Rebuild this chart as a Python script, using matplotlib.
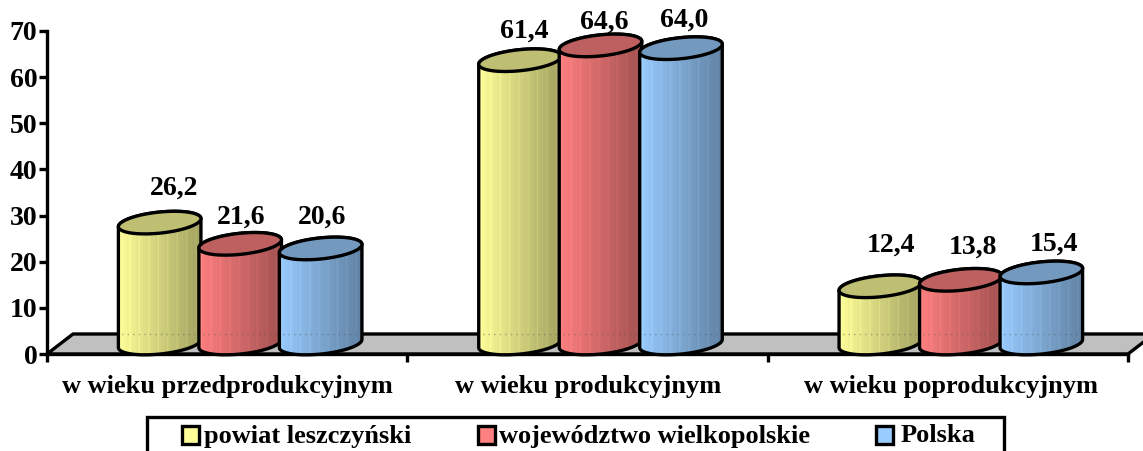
import numpy as np
import matplotlib
matplotlib.use("Agg")
import matplotlib.pyplot as plt
from matplotlib.patches import Polygon, Rectangle

categories = ["w wieku przedprodukcyjnym", "w wieku produkcyjnym", "w wieku poprodukcyjnym"]
series_names = ["powiat leszczyński", "województwo wielkopolskie", "Polska"]
powiat = [26.2, 61.4, 12.4]
wojewodztwo = [21.6, 64.6, 13.8]
polska = [20.6, 64.0, 15.4]
y_ticks = [0, 10, 20, 30, 40, 50, 60, 70]
colors = ["#FFFF99", "#FF8080", "#99CCFF"]

W, H = 1143, 451
L, R, B, T = 47, 1128, 354, 31
plt.rcParams["font.family"] = ["Liberation Serif", "DejaVu Serif"]
fig = plt.figure(figsize=(W / 100, H / 100), dpi=100)
ax = fig.add_axes([L / W, (H - B) / H, (R - L) / W, (B - T) / H])
ax.set_xlim(0, 3)
ax.set_ylim(0, 70)
px_x = 3 / (R - L)
px_y = 70 / (B - T)
LW = 2.4

# floor
depth_x, depth_y = 26, 20
floor = Polygon([(0, 0), (depth_x * px_x, depth_y * px_y),
                 (3 + depth_x * px_x, depth_y * px_y), (3, 0)],
                closed=True, facecolor="#C0C0C0", edgecolor="black", lw=LW,
                clip_on=False, zorder=1)
ax.add_patch(floor)

a, b, theta = 41.5, 10.5, np.radians(6)
shift = 13
spacing = 80.5
lift = 10.5
label_lift = 10


def ell(cx, cy, t):
    px = a * np.cos(t) * np.cos(theta) - b * np.sin(t) * np.sin(theta)
    py = a * np.cos(t) * np.sin(theta) + b * np.sin(t) * np.cos(theta)
    return np.column_stack([cx + px * px_x, cy + py * px_y])


def cylinder(center, value, color, z):
    cx = center
    y_top = value + lift * px_y
    y_bot = lift * px_y
    rgb = np.array(matplotlib.colors.to_rgb(color))
    up = np.linspace(0, np.pi, 60)
    lo = np.linspace(np.pi, 2 * np.pi, 60)
    outline = np.vstack([ell(cx, y_top, up), ell(cx, y_bot, lo)])
    body = Polygon(outline, closed=True, facecolor="none", edgecolor="black",
                   lw=LW, clip_on=False, zorder=z + 0.2, joinstyle="round")
    mask = Polygon(outline, closed=True, transform=ax.transData, facecolor="none", edgecolor="none")
    ax.add_patch(mask)
    n = 84
    shade = np.linspace(1.0, 0.62, n)
    shade = shade + np.where(np.arange(n) % 9 == 4, 0.06, 0.0) + np.where(np.arange(n) % 3 == 0, 0.012, 0.0)
    img = np.clip(shade[None, :, None] * rgb[None, None, :], 0, 1)
    half = (a + 2) * px_x
    im = ax.imshow(img, extent=[cx - half, cx + half, y_bot - 20 * px_y, y_top + 20 * px_y],
                   aspect="auto", interpolation="bilinear", zorder=z, clip_on=True)
    im.set_clip_path(mask)
    ghost, = ax.plot([cx - half, cx + half], [depth_y * px_y] * 2, color="#555555", lw=1.0,
                     ls=(0, (1, 3)), alpha=0.45, zorder=z + 0.1)
    ghost.set_clip_path(mask)
    ax.add_patch(body)
    ax.add_patch(Polygon(ell(cx, y_top, np.linspace(0, 2 * np.pi, 120)), closed=True,
                         facecolor=rgb * 0.75, edgecolor="black", lw=LW,
                         clip_on=False, zorder=z + 0.3))


all_series = [powiat, wojewodztwo, polska]
# per-label pixel nudges (dx, height above ellipse centre)
label_dx = [[14, 1, 1], [4, 4, 3], [11, 12, 13]]
label_up = [[35, 27, 32], [30, 24, 29], [42, 33, 29]]
for g in range(3):
    centre = g + 0.5 + shift * px_x
    for s, series in enumerate(all_series):
        cx = centre + (s - 1) * spacing * px_x
        cylinder(cx, series[g], colors[s], 3 + s)
        ytext = series[g] + (label_up[g][s] + label_lift) * px_y
        ax.text(cx + label_dx[g][s] * px_x, ytext,
                f"{series[g]:.1f}".replace(".", ","), ha="center", va="center",
                fontsize=20, fontweight="bold", zorder=10, clip_on=False)

ax.set_xlim(0, 3)
ax.set_ylim(0, 70)
for side in ["top", "right"]:
    ax.spines[side].set_visible(False)
for side in ["left", "bottom"]:
    ax.spines[side].set_linewidth(LW)
    ax.spines[side].set_zorder(2)
ax.set_yticks(y_ticks)
ax.set_yticklabels([str(v) for v in y_ticks], fontsize=20, fontweight="bold")
ax.set_xticks([0, 1, 2, 3])
ax.set_xticklabels([])
ax.tick_params(axis="both", width=LW, length=6, pad=1)
cat_dx = [0, 1, 3]
for g, cat in enumerate(categories):
    ax.annotate(cat, xy=(g + 0.5, 0), xytext=(cat_dx[g] * 0.72, -32 * 0.72), textcoords="offset points",
                ha="center", va="center", fontsize=19, fontweight="bold", annotation_clip=False)

# legend
fig.add_artist(Rectangle((147 / W, -0.02), (1004 - 147) / W, 1.02 - 417 / H,
                         transform=fig.transFigure, facecolor="white", edgecolor="black", lw=LW))
keys = [(182, 204), (478, 499), (876, 901)]
for (kx, tx), col, name in zip(keys, colors, series_names):
    fig.add_artist(Rectangle((kx / W, 1 - 444 / H), 17 / W, 18 / H, transform=fig.transFigure,
                             facecolor=col, edgecolor="black", lw=LW))
    fig.text(tx / W, 1 - 436 / H, name, ha="left", va="center", fontsize=19, fontweight="bold")

fig.savefig("out.png", dpi=100)
